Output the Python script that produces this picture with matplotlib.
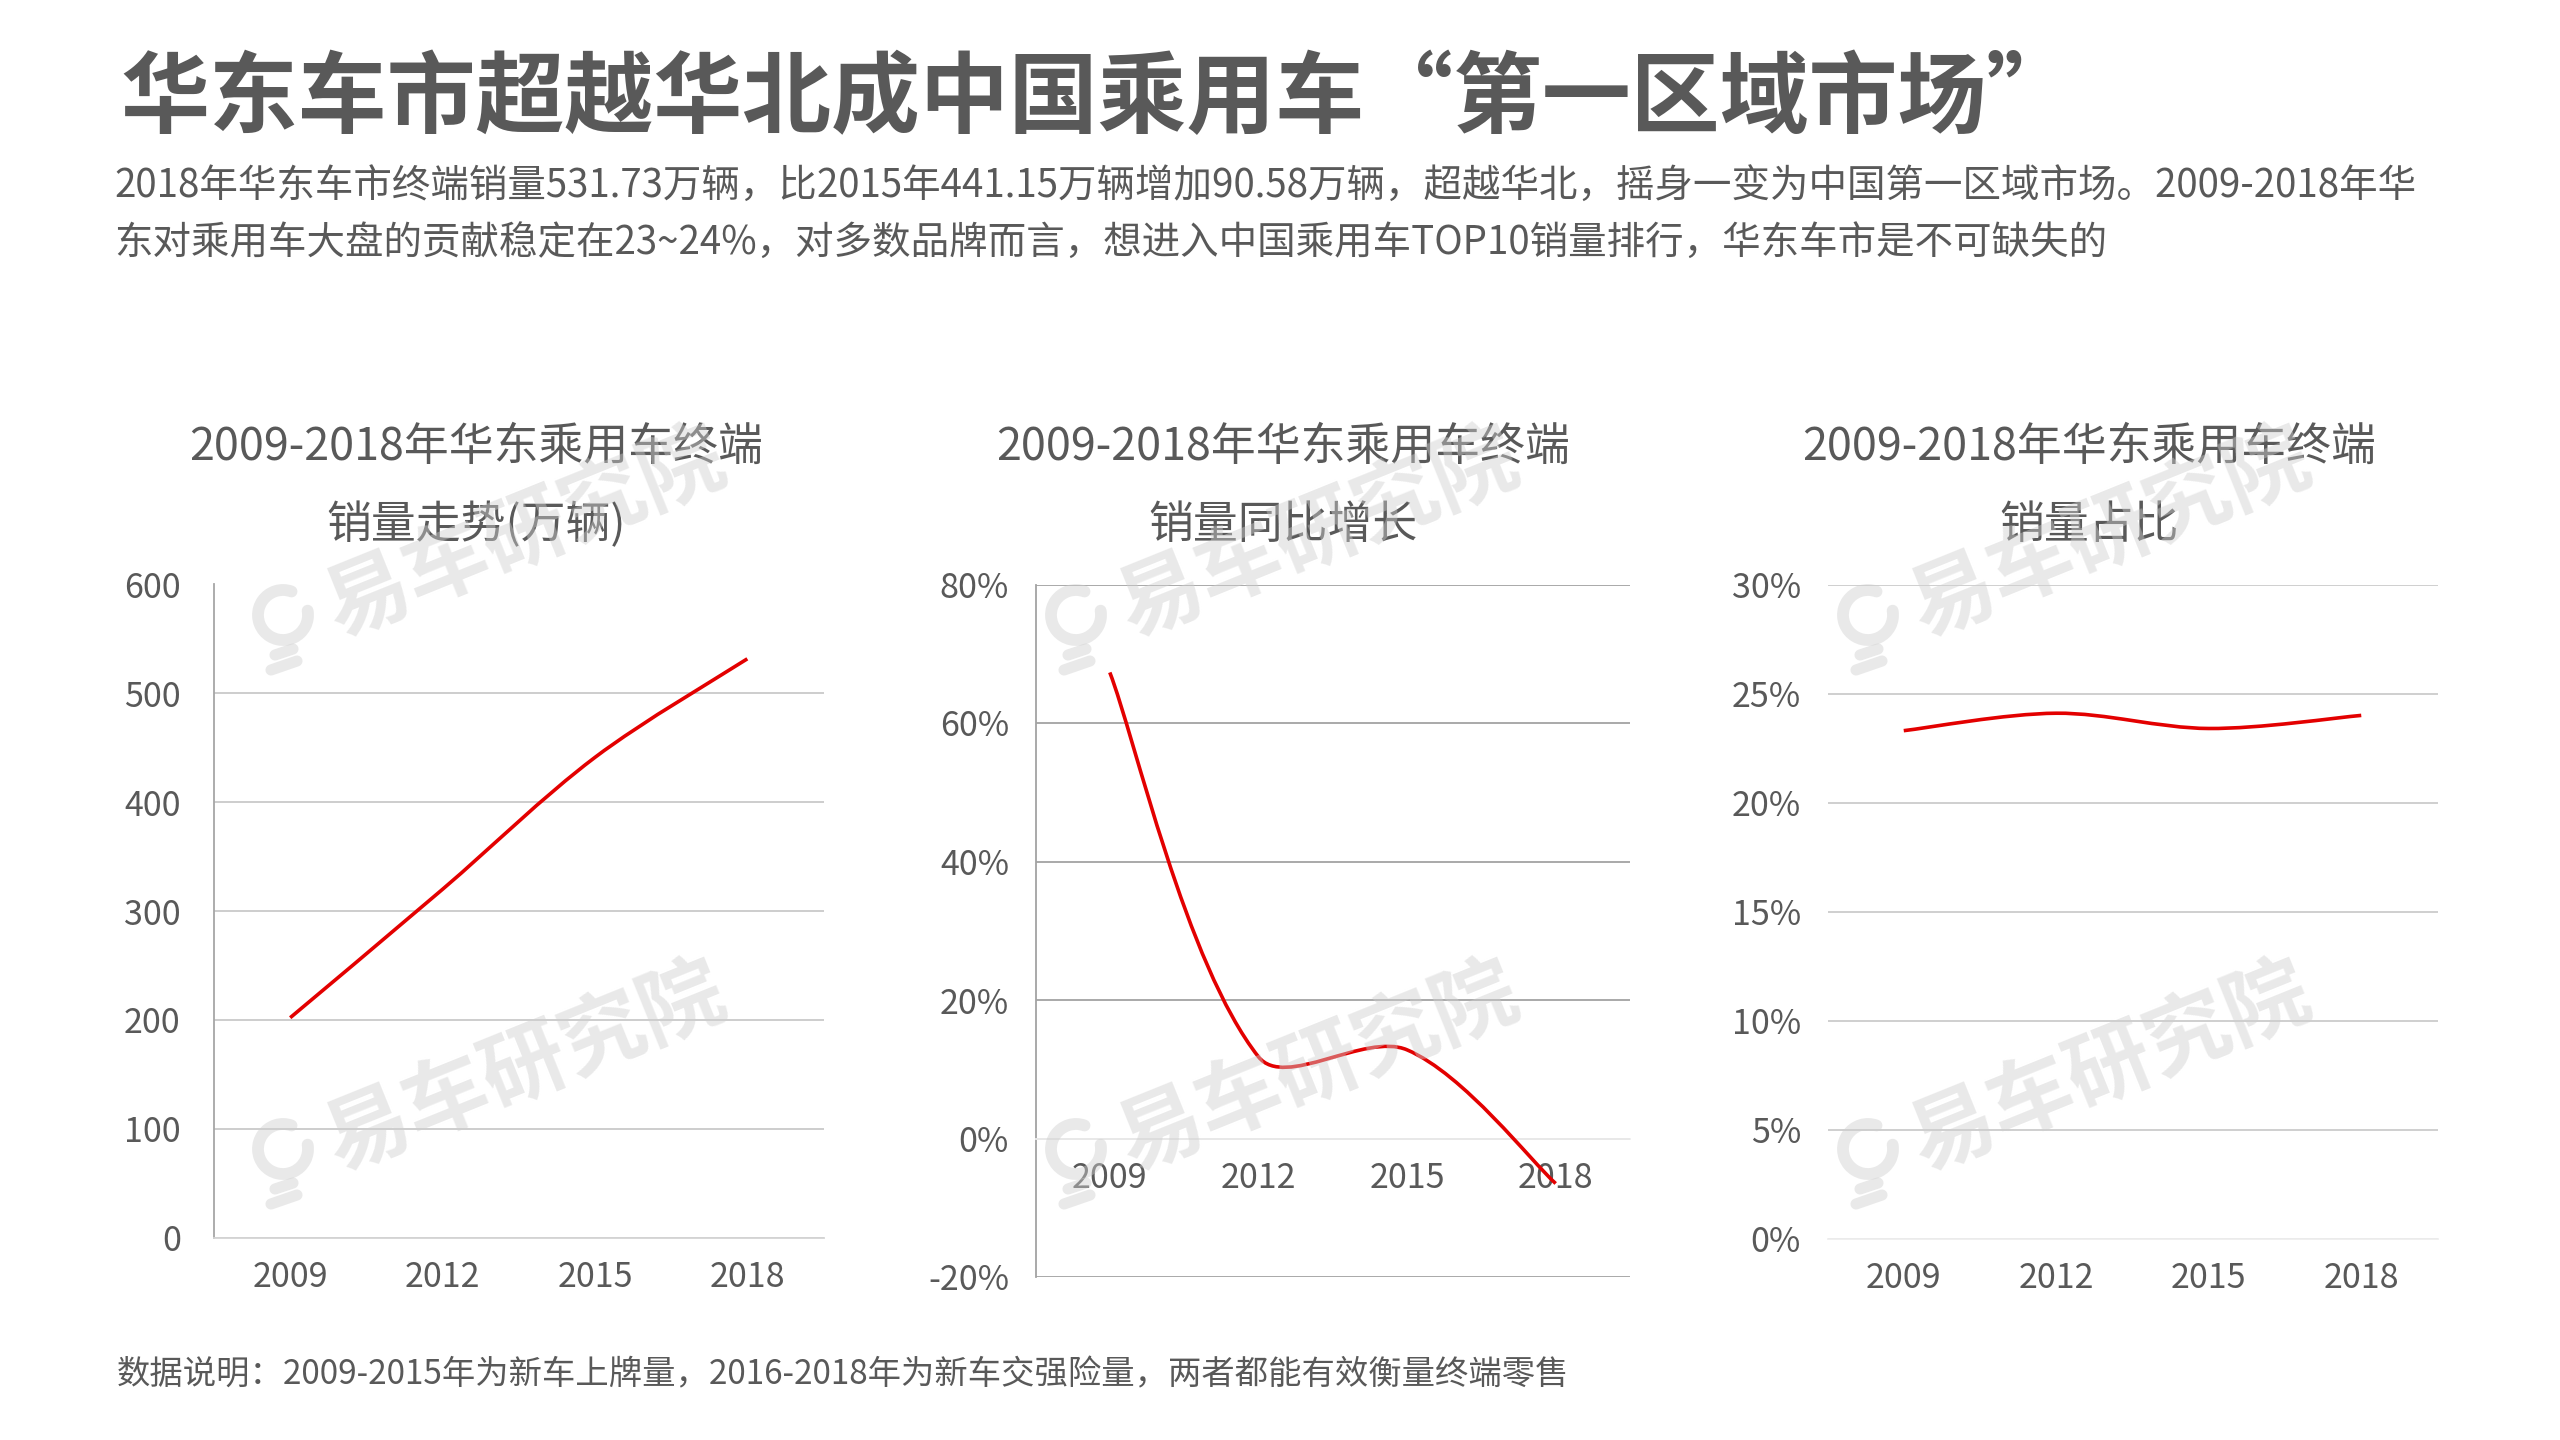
import matplotlib
matplotlib.use("Agg")
import math
import matplotlib.pyplot as plt
from matplotlib.path import Path
from matplotlib.patches import PathPatch, Arc
from matplotlib.lines import Line2D
from matplotlib.ticker import FuncFormatter

plt.rcParams["font.family"] = ["Noto Sans CJK SC", "DejaVu Sans"]

W, H = 2560, 1440
TEXT_GRAY = "#595959"
RED = "#e30000"

TITLE = "华东车市超越华北成中国乘用车“第一区域市场”"
SUBTITLE = [
    "2018年华东车市终端销量531.73万辆，比2015年441.15万辆增加90.58万辆，超越华北，摇身一变为中国第一区域市场。2009-2018年华",
    "东对乘用车大盘的贡献稳定在23~24%，对多数品牌而言，想进入中国乘用车TOP10销量排行，华东车市是不可缺失的",
]
NOTE = "数据说明：2009-2015年为新车上牌量，2016-2018年为新车交强险量，两者都能有效衡量终端零售"
WATERMARK = "易车研究院"

YEARS = ["2009", "2012", "2015", "2018"]
SALES = [202, 320, 441.15, 531.73]          # 万辆
GROWTH = [67.3, 11.8, 12.8, -6.5]           # %
SHARE = [23.3, 24.1, 23.4, 24.0]            # %

PANEL_TITLES = [
    ("2009-2018年华东乘用车终端", "销量走势(万辆)"),
    ("2009-2018年华东乘用车终端", "销量同比增长"),
    ("2009-2018年华东乘用车终端", "销量占比"),
]


def fx(px):
    return px / W


def fy(py):
    return 1 - py / H


def smooth_path(ax, values):
    """Excel-like smoothed line: Bezier segments through every point, with
    control arms weighted by neighbouring segment lengths on screen."""
    pts = ax.transData.transform([(i, v) for i, v in enumerate(values)])
    n = len(pts)

    def dist(a, b):
        return math.hypot(b[0] - a[0], b[1] - a[1])

    before, after = [None] * n, [None] * n
    for i in range(n):
        if i == 0:
            after[i] = pts[0] + (pts[1] - pts[0]) / 6
            continue
        if i == n - 1:
            before[i] = pts[i] - (pts[i] - pts[i - 1]) / 6
            continue
        d = pts[i + 1] - pts[i - 1]
        l1, l2 = dist(pts[i - 1], pts[i]), dist(pts[i], pts[i + 1])
        before[i] = pts[i] - d / 3 * l1 / (l1 + l2)
        after[i] = pts[i] + d / 3 * l2 / (l1 + l2)

    disp = [pts[0]]
    codes = [Path.MOVETO]
    for i in range(n - 1):
        disp += [after[i], before[i + 1], pts[i + 1]]
        codes += [Path.CURVE4] * 3
    verts = ax.transData.inverted().transform(disp)
    return Path(verts, codes)


def style_axes(ax, ylim, step, fmt, grid_color, left_color, bottom_color, ypad):
    ax.set_xlim(-0.5, len(YEARS) - 0.5)
    ax.set_ylim(*ylim)
    ax.set_yticks(range(ylim[0], ylim[1] + 1, step))
    ax.yaxis.set_major_formatter(FuncFormatter(fmt))
    ax.set_xticks(range(len(YEARS)))
    ax.set_xticklabels(YEARS)
    ax.tick_params(length=0, labelsize=24.5, labelcolor=TEXT_GRAY)
    ax.tick_params(axis="y", pad=ypad)
    ax.tick_params(axis="x", pad=16)
    ax.grid(True, axis="y", color=grid_color, linewidth=1.3)
    ax.set_axisbelow(True)
    for side in ("top", "right"):
        ax.spines[side].set_visible(False)
    if left_color:
        ax.spines["left"].set_color(left_color)
        ax.spines["left"].set_linewidth(1.3)
    else:
        ax.spines["left"].set_visible(False)
    ax.spines["bottom"].set_color(bottom_color)
    ax.spines["bottom"].set_linewidth(1.3)
    ax.spines["bottom"].set_zorder(2.5)


def draw_line(ax, values):
    ax.add_patch(PathPatch(smooth_path(ax, values), fill=False, edgecolor=RED,
                           linewidth=2.6, capstyle="butt", zorder=3))


def watermark(fig, cx, cy):
    """Logo ring + 易车研究院, pixel coordinates (y down) of logo centre."""
    tr = fig.dpi_scale_trans
    wm = dict(color="#cfcfcf", alpha=0.45, zorder=10)
    fig.add_artist(Arc((cx / 100, (H - cy) / 100), 0.5, 0.5, theta1=70, theta2=370,
                       transform=tr, linewidth=8.5, capstyle="round", **wm))
    for (x0, y0, x1, y1) in [(-8, 40, 10, 34), (-12, 55, 14, 46)]:
        fig.add_artist(Line2D([(cx + x0) / 100, (cx + x1) / 100],
                              [(H - cy - y0) / 100, (H - cy - y1) / 100],
                              transform=tr, linewidth=8, solid_capstyle="round", **wm))
    fig.text(fx(cx + 45), fy(cy - 2), WATERMARK, fontsize=61, fontweight="bold",
             rotation=22, rotation_mode="anchor", ha="left", va="center", **wm)


def main():
    fig = plt.figure(figsize=(W / 100, H / 100), dpi=100)
    fig.patch.set_facecolor("white")

    fig.text(fx(120), fy(100), TITLE, fontsize=64, fontweight="bold",
             color=TEXT_GRAY, ha="left", va="center")
    for i, line in enumerate(SUBTITLE):
        fig.text(fx(114), fy(186 + 57 * i), line, fontsize=27.7,
                 color=TEXT_GRAY, ha="left", va="center")
    fig.text(fx(117), fy(1375), NOTE, fontsize=24, color=TEXT_GRAY,
             ha="left", va="center")

    # plot areas in pixels: left, right, top, bottom
    boxes = [(214, 823.5, 584.5, 1237.6),
             (1035.5, 1630, 584.5, 1277),
             (1827.5, 2437.5, 584.5, 1239)]
    axes = []
    for l, r, t, b in boxes:
        axes.append(fig.add_axes([fx(l), fy(b), (r - l) / W, (b - t) / H]))

    ax1, ax2, ax3 = axes
    style_axes(ax1, (0, 600), 100, lambda v, _: f"{v:.0f}",
               "#c9c9c9", "#a6a6a6", "#d4d4d4", ypad=24)
    draw_line(ax1, SALES)

    style_axes(ax2, (-20, 80), 20, lambda v, _: f"{v:.0f}%",
               "#a3a3a3", "#a3a3a3", "#efefef", ypad=19)
    ax2.spines["bottom"].set_position(("data", 0))
    draw_line(ax2, GROWTH)

    style_axes(ax3, (0, 30), 5, lambda v, _: f"{v:.0f}%",
               "#cccccc", None, "#eeeeee", ypad=19)
    draw_line(ax3, SHARE)

    title_centers = [476, 1283, 2089]
    for cx, (l1, l2) in zip(title_centers, PANEL_TITLES):
        fig.text(fx(cx), fy(447), l1, fontsize=32.3, color=TEXT_GRAY, ha="center", va="center")
        fig.text(fx(cx), fy(525), l2, fontsize=32.3, color=TEXT_GRAY, ha="center", va="center")

    for dx in (0, 793, 1585):
        watermark(fig, 283 + dx, 615)
        watermark(fig, 283 + dx, 1149)

    fig.savefig("out.png", dpi=100, facecolor="white")


if __name__ == "__main__":
    main()
